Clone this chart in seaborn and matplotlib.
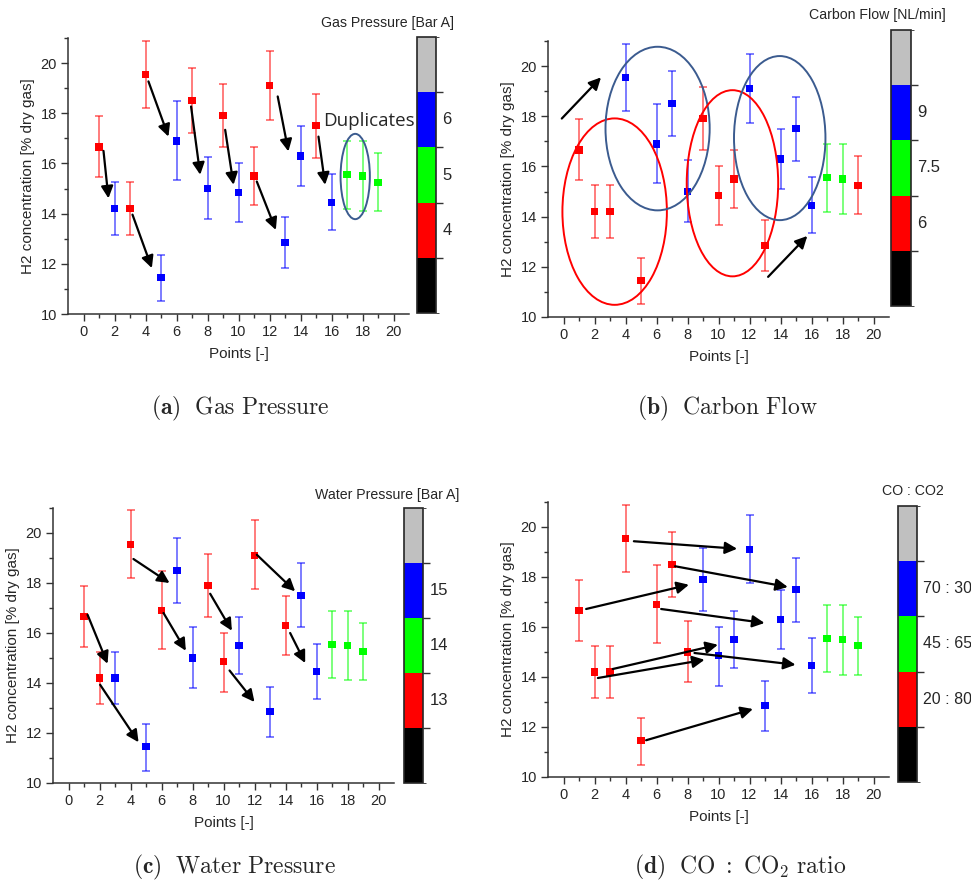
import numpy as np
import pandas as pd
import matplotlib
matplotlib.use("Agg")
import matplotlib.pyplot as plt
from matplotlib.colors import ListedColormap, BoundaryNorm
from matplotlib.patches import Ellipse
import seaborn as sns

# ---------------- data ----------------
points = list(range(1, 20))
h2 = [16.65, 14.2, 14.2, 19.55, 11.45, 16.9, 18.5, 15.0, 17.9, 14.85,
      15.5, 19.1, 12.85, 16.3, 17.5, 14.45, 15.55, 15.5, 15.25]
err_lo = [15.45, 13.15, 13.15, 18.2, 10.5, 15.35, 17.2, 13.8, 16.65, 13.65,
          14.35, 17.75, 11.85, 15.12, 16.22, 13.35, 14.2, 14.1, 14.1]
err_hi = [17.88, 15.25, 15.25, 20.9, 12.35, 18.47, 19.8, 16.25, 19.15, 16.0,
          16.65, 20.5, 13.85, 17.48, 18.78, 15.57, 16.9, 16.9, 16.4]

# level per point: 'low' (red), 'mid' (green), 'high' (blue)
gas_level = ['low', 'high', 'low', 'low', 'high', 'high', 'low', 'high', 'low', 'high',
             'low', 'low', 'high', 'high', 'low', 'high', 'mid', 'mid', 'mid']
carbon_level = ['low', 'low', 'low', 'high', 'low', 'high', 'high', 'high', 'low', 'low',
                'low', 'high', 'low', 'high', 'high', 'high', 'mid', 'mid', 'low']
water_level = ['low', 'low', 'high', 'low', 'high', 'low', 'high', 'high', 'low', 'low',
               'high', 'low', 'high', 'low', 'high', 'high', 'mid', 'mid', 'mid']
ratio_level = ['low'] * 8 + ['high'] * 8 + ['mid'] * 3

titles = ["Gas Pressure [Bar A]", "Carbon Flow [NL/min]", "Water Pressure [Bar A]", "CO : CO2"]
cbar_labels = [["4", "5", "6"], ["6", "7.5", "9"], ["13", "14", "15"], ["20 : 80", "45 : 65", "70 : 30"]]
captions = [r"$\mathbf{(a)}\ \ \mathrm{Gas\ Pressure}$",
            r"$\mathbf{(b)}\ \ \mathrm{Carbon\ Flow}$",
            r"$\mathbf{(c)}\ \ \mathrm{Water\ Pressure}$",
            r"$\mathbf{(d)}\ \ \mathrm{CO\ :\ CO_2\ ratio}$"]

# arrows: (x0, y0, x1, y1)
arrows_a = [(1.29, 16.5, 1.61, 14.61), (3.16, 13.96, 4.41, 11.83), (4.19, 19.27, 5.48, 17.07),
            (6.94, 18.27, 7.53, 15.55), (9.14, 17.34, 9.68, 15.15), (11.18, 15.28, 12.41, 13.35),
            (12.53, 18.67, 13.22, 16.48), (15.16, 17.07, 15.59, 15.15)]
arrows_b = [(-0.11, 17.91, 2.42, 19.55), (13.2, 11.6, 15.73, 13.23)]
arrows_c = [(1.23, 16.73, 2.52, 14.77), (2.04, 13.93, 4.52, 11.63), (4.19, 18.96, 6.52, 18.0),
            (6.13, 16.8, 7.57, 15.29), (9.14, 17.57, 10.54, 16.09), (10.39, 14.5, 12.0, 13.24),
            (12.15, 19.13, 14.62, 17.67), (14.3, 16.0, 15.27, 14.8)]
arrows_d = [(4.54, 19.43, 11.2, 19.13), (7.2, 18.43, 14.47, 17.6), (1.46, 16.72, 8.09, 17.69),
            (6.3, 16.72, 12.97, 16.16), (3.18, 14.32, 9.96, 15.29), (2.22, 13.96, 9.1, 14.69),
            (8.45, 14.96, 14.97, 14.49), (5.33, 11.47, 12.22, 12.72)]

# ellipses: (cx, cy, width, height, color)
ellipses_a = [(17.53, 15.48, 1.89, 3.40, '#3b5b8f')]
ellipses_b = [(3.30, 14.2, 6.74, 7.43, '#ff0000'), (6.07, 17.51, 6.72, 6.52, '#3b5b8f'),
              (10.9, 15.33, 5.9, 7.42, '#ff0000'), (13.95, 17.13, 5.9, 6.54, '#3b5b8f')]

palette = {'low': '#ff0000', 'mid': '#00ff00', 'high': '#0000ff'}
cb_colors = ['#000000', '#ff0000', '#00ff00', '#0000ff', '#c0c0c0']

# ---------------- style ----------------
sns.set_style("ticks")
plt.rcParams['font.family'] = ['Liberation Sans', 'DejaVu Sans']
plt.rcParams['mathtext.fontset'] = 'cm'

W, H = 971, 885
fig = plt.figure(figsize=(W / 100, H / 100), dpi=100)


def fr(l, t, r, b):
    return [l / W, 1 - b / H, (r - l) / W, (b - t) / H]


panels = [
    dict(ax=fr(68, 38, 409, 314), cb=fr(417, 37, 436, 313), title=(454, 23), cap=(240, 408),
         levels=gas_level, arrows=arrows_a, ellipses=ellipses_a, cbfs=12),
    dict(ax=fr(548, 41, 889, 317), cb=fr(891, 30, 911, 306), title=(946, 15), cap=(727, 408),
         levels=carbon_level, arrows=arrows_b, ellipses=ellipses_b, cbfs=12),
    dict(ax=fr(53, 508, 394, 783), cb=fr(404, 508, 423, 783), title=(459, 495), cap=(234, 867),
         levels=water_level, arrows=arrows_c, ellipses=[], cbfs=12),
    dict(ax=fr(548, 502, 889, 777), cb=fr(898, 506, 917, 782), title=(944, 491), cap=(740, 867),
         levels=ratio_level, arrows=arrows_d, ellipses=[], cbfs=11.5),
]

for i, p in enumerate(panels):
    ax = fig.add_axes(p['ax'])
    df = pd.DataFrame({'Points': points, 'H2': h2, 'lo': err_lo, 'hi': err_hi, 'level': p['levels']})
    for lvl, col in palette.items():
        sub = df[df['level'] == lvl]
        if len(sub) == 0:
            continue
        yerr = np.vstack([sub['H2'] - sub['lo'], sub['hi'] - sub['H2']])
        ax.errorbar(sub['Points'], sub['H2'], yerr=yerr, fmt='none', ecolor=col,
                    elinewidth=1.1, capsize=2.6, capthick=1.1, alpha=0.65, zorder=2)
    sns.scatterplot(data=df, x='Points', y='H2', hue='level', palette=palette, marker='s',
                    s=28, edgecolor='none', legend=False, ax=ax, zorder=3)

    for (x0, y0, x1, y1) in p['arrows']:
        ax.annotate('', xy=(x1, y1), xytext=(x0, y0),
                    arrowprops=dict(arrowstyle='-|>', color='black', lw=1.6,
                                    mutation_scale=18, shrinkA=0, shrinkB=0),
                    zorder=4, annotation_clip=False)
    for (cx, cy, w, h, c) in p['ellipses']:
        ax.add_patch(Ellipse((cx, cy), w, h, fill=False, edgecolor=c, lw=1.4, zorder=4, clip_on=False))
    if i == 0:
        ax.text(15.44, 17.7, 'Duplicates', fontsize=13.5, family='Open Sans',
                ha='left', va='center', zorder=5)

    ax.set_xlim(-1, 21)
    ax.set_ylim(10, 21)
    ax.set_xticks(range(0, 21, 2))
    ax.set_xticks(range(1, 21, 2), minor=True)
    ax.set_yticks([10, 12, 14, 16, 18, 20])
    ax.set_yticks([11, 13, 15, 17, 19, 21], minor=True)
    ax.tick_params(axis='both', which='major', direction='out', length=5, width=1,
                   labelsize=10.5, color='#333333', pad=3)
    ax.tick_params(axis='both', which='minor', direction='out', length=3, width=1, color='#333333')
    ax.set_xlabel('Points [-]', fontsize=11, labelpad=6)
    ax.set_ylabel('H2 concentration [% dry gas]', fontsize=11, labelpad=4)
    for s in ['top', 'right']:
        ax.spines[s].set_visible(False)
    for s in ['left', 'bottom']:
        ax.spines[s].set_color('#333333')
        ax.spines[s].set_linewidth(1.1)

    # colorbar
    cax = fig.add_axes(p['cb'])
    cmap = ListedColormap(cb_colors)
    norm = BoundaryNorm([0, 1, 2, 3, 4, 5], cmap.N)
    sm = matplotlib.cm.ScalarMappable(norm=norm, cmap=cmap)
    cb = fig.colorbar(sm, cax=cax, boundaries=[0, 1, 2, 3, 4, 5])
    cb.set_ticks([1, 2, 3, 4])
    cb.set_ticklabels(['', '', '', ''])
    cax.tick_params(direction='out', length=5, width=1, color='#333333')
    cb.outline.set_linewidth(1.2)
    for k, lab in enumerate(cbar_labels[i]):
        cax.annotate(lab, xy=(1.0, (1.5 + k) / 5), xycoords='axes fraction',
                     xytext=(4.5, 0), textcoords='offset points',
                     fontsize=p['cbfs'], ha='left', va='center')

    tx, ty = p['title']
    fig.text(tx / W, 1 - ty / H, titles[i], fontsize=10.2, ha='right', va='center')
    cx_, cy_ = p['cap']
    fig.text(cx_ / W, 1 - cy_ / H, captions[i], fontsize=17, ha='center', va='center')

fig.savefig('out.png', dpi=100)
